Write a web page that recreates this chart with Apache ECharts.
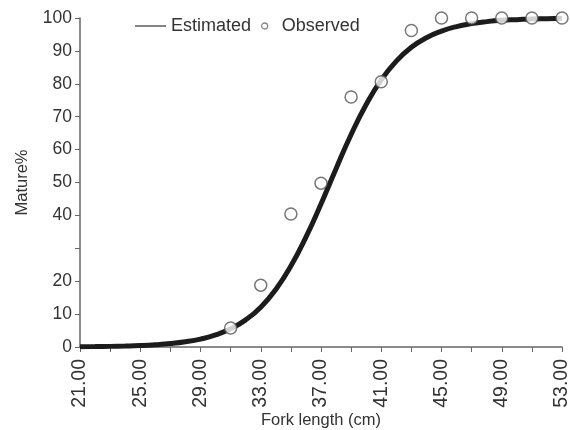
<!DOCTYPE html>
<html>
<head>
<meta charset="utf-8">
<script src="https://cdn.jsdelivr.net/npm/echarts@6/dist/echarts.min.js"></script>
<style>html,body{margin:0;padding:0;background:#fff;}#c{width:570px;height:430px;}</style>
</head>
<body>
<div id="c"></div>
<script>
var lengths = ['21.00','22.00','23.00','24.00','25.00','26.00','27.00','28.00','29.00','30.00','31.00','32.00','33.00','34.00','35.00','36.00','37.00','38.00','39.00','40.00','41.00','42.00','43.00','44.00','45.00','46.00','47.00','48.00','49.00','50.00','51.00','52.00','53.00'];
var estimated = [0.08,0.12,0.19,0.29,0.44,0.68,1.03,1.58,2.41,3.66,5.52,8.24,12.1,17.5,24.6,33.4,43.5,54.2,64.6,73.7,81.2,86.9,91.1,94.0,96.0,97.4,98.3,98.9,99.3,99.5,99.7,99.8,99.9];
var observedLengths = ['31.00','33.00','35.00','37.00','39.00','41.00','43.00','45.00','47.00','49.00','51.00','53.00'];
var observed = [5.8,18.8,40.4,49.8,76.0,80.6,96.2,100,100,100,100,100];
var yTicks = [0,10,20,30,40,50,60,70,80,90,100];
var hiddenYLabels = [30];

var font = 'Liberation Sans, Arial, sans-serif';
var chart = echarts.init(document.getElementById('c'), null, {renderer:'canvas'});
chart.setOption({
  animation: false,
  backgroundColor: '#fff',
  textStyle: {fontFamily: font},
  legend: [
    {
      top: 17, left: 135, padding: 0,
      itemWidth: 31, itemHeight: 8,
      textStyle: {fontSize: 18, color: '#333', fontFamily: font},
      data: [{name: 'Estimated', icon: 'path://M0,3.3 L30,3.3 L30,4.7 L0,4.7 Z', itemStyle: {color: '#555'}}]
    },
    {
      top: 17, left: 261, padding: 0,
      itemWidth: 6, itemHeight: 6,
      textStyle: {fontSize: 18, color: '#333', fontFamily: font, padding: [0, 0, 0, 9]},
      data: [{name: 'Observed', icon: 'circle', itemStyle: {color: '#fff', borderColor: '#666', borderWidth: 1.3}}]
    }
  ],
  grid: {left: 80, right: 8, top: 18, bottom: 83, containLabel: false, outerBoundsMode: 'none'},
  xAxis: {
    type: 'category',
    data: lengths,
    boundaryGap: false,
    name: 'Fork length (cm)',
    nameLocation: 'middle',
    nameGap: 65,
    nameMoveOverlap: false,
    nameTextStyle: {fontSize: 16.5, color: '#333', fontFamily: font},
    axisLine: {lineStyle: {color: '#666', width: 1.5}},
    axisTick: {show: true, interval: 1, length: 5, inside: false, lineStyle: {color: '#666'}},
    axisLabel: {interval: 3, rotate: 90, fontSize: 19.5, color: '#333', margin: 12, fontFamily: font},
    splitLine: {show: false}
  },
  yAxis: {
    type: 'value',
    min: 0, max: 100, interval: 10,
    name: 'Mature%',
    nameLocation: 'middle',
    nameGap: 49,
    nameMoveOverlap: false,
    nameTextStyle: {fontSize: 16.5, color: '#333', fontFamily: font},
    axisLine: {show: true, lineStyle: {color: '#666', width: 1.5}},
    axisTick: {show: true, length: 5, lineStyle: {color: '#666'}},
    axisLabel: {fontSize: 17.5, color: '#333', margin: 8, fontFamily: font,
      formatter: function (v) { return (yTicks.indexOf(v) >= 0 && hiddenYLabels.indexOf(v) < 0) ? String(v) : ''; }},
    splitLine: {show: false}
  },
  series: [
    {
      name: 'Estimated',
      type: 'line',
      data: estimated,
      smooth: true,
      symbol: 'none',
      lineStyle: {color: '#1c1c1c', width: 5},
      z: 2
    },
    {
      name: 'Observed',
      type: 'scatter',
      data: observedLengths.map(function (x, i) { return [x, observed[i]]; }),
      symbol: 'circle',
      symbolSize: 12,
      itemStyle: {color: '#fff', borderColor: '#555', borderWidth: 1.5},
      z: 3
    }
  ]
});
</script>
</body>
</html>
